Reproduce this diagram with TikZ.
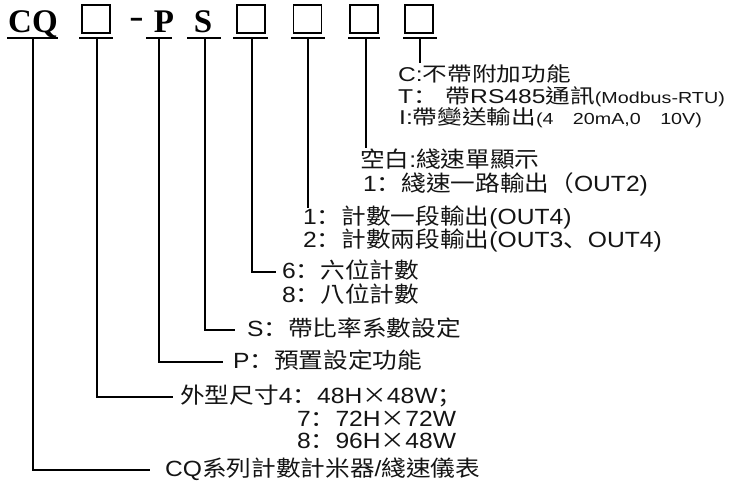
\documentclass[tikz,border=0pt]{standalone}
\usepackage{fontspec}
\setmainfont[FakeStretch=1.12]{Liberation Sans}
\newfontfamily\cjk[FakeStretch=1.12]{Noto Sans CJK TC}
\newfontfamily\pun[FakeStretch=1.12]{Noto Sans CJK SC}
\newfontfamily\hdrfont{Liberation Serif}
\newcommand\C[1]{{\cjk #1}}
\newcommand\Q[1]{{\pun #1}}
\newcommand\sm[1]{{\fontsize{16}{16}\selectfont #1}}
\begin{document}
\begin{tikzpicture}[x=1pt,y=-1pt,
  hd/.style={inner sep=0pt,font=\hdrfont\bfseries\fontsize{33}{33}\selectfont},
  bx/.style={draw,line width=1.2pt,minimum size=28pt,inner sep=0pt},
  ul/.style={line width=2pt},
  ln/.style={line width=2pt},
  lbl/.style={anchor=west,inner sep=0pt,text height=16pt,text depth=3.5pt,
    text=black!92,font=\fontsize{22}{22}\selectfont},
  lbs/.style={lbl,text height=14.5pt,text depth=3pt,font=\fontsize{20}{20}\selectfont}]
\useasboundingbox (0,0) rectangle (734,495);
% header
\node[hd,anchor=base] (cq) at (33,33) {CQ};
\node[bx] (b1) at (96,19) {};
\node[hd,anchor=base] (dash) at (136.5,28) {\scalebox{1.3}[1]{-}};
\node[hd,anchor=base] (p) at (164,33) {P};
\node[hd,anchor=base] (s) at (203,33) {S};
\node[bx] (b2) at (251,19) {};
\node[bx] (b3) at (307.5,19) {};
\node[bx] (b4) at (364,19) {};
\node[bx] (b5) at (419,19) {};
% stem tops
\coordinate (u0) at (33,38);
\coordinate (u1) at (97,38);
\coordinate (u2) at (159,38);
\coordinate (u3) at (205,38);
\coordinate (u4) at (252,38);
\coordinate (u5) at (308,38);
\coordinate (u6) at (366,38);
\coordinate (u7) at (420,38);
% underlines
\draw[ul] (7,38) -- (58,38);
\draw[ul] (79,38) -- (113,38);
\draw[ul] (146,38) -- (172,38);
\draw[ul] (187,38) -- (221,38);
\draw[ul] (233,38) -- (268,38);
\draw[ul] (291,38) -- (325,38);
\draw[ul] (348,38) -- (380,38);
\draw[ul] (403,38) -- (437,38);
% labels
\node[lbs] (t1) at (398,76) {\scalebox{1.1}[1]{C:\C{不帶附加功能}}};
\node[lbs] (t2) at (398,97.5) {\scalebox{1.1}[1]{T\Q{：}\hspace{0.35em}\C{帶}RS485\C{通訊}\sm{(Modbus-RTU)}}};
\node[lbs] (t3) at (399,119) {\scalebox{1.1}[1]{I:\C{帶變送輸出}\sm{(4\hspace{1.1em}20mA,0\hspace{1.1em}10V)}}};
\node[lbl] (t4) at (360,161) {\C{空白}:\C{綫速單顯示}};
\node[lbl] (t5) at (363,185) {1\Q{：}\C{綫速一路輸出}\Q{（}OUT2)};
\node[lbl] (t6) at (303,218) {1\Q{：}\C{計數一段輸出}(OUT4)};
\node[lbl] (t7) at (303,241) {2\Q{：}\C{計數兩段輸出}(OUT3\Q{、}OUT4)};
\node[lbl] (t8) at (282,272) {6\Q{：}\C{六位計數}};
\node[lbl] (t9) at (282,296) {8\Q{：}\C{八位計數}};
\node[lbl] (t10) at (247,330) {S\Q{：}\C{帶比率系數設定}};
\node[lbl] (t11) at (233,362) {P\Q{：}\C{預置設定功能}};
\node[lbl] (t12) at (180,397) {\C{外型尺寸}4\Q{：}48H\C{×}48W\Q{；}};
\node[lbl] (t13) at (297,420) {7\Q{：}72H\C{×}72W};
\node[lbl] (t14) at (297,442) {8\Q{：}96H\C{×}48W};
\node[lbl] (t15) at (165,470) {CQ\C{系列計數計米器}/\C{綫速儀表}};
% connectors
\coordinate (e7) at (420,63);
\coordinate (e6) at (366,148);
\coordinate (e5) at (308,208);
\draw[ln] (u7) -- (e7);
\draw[ln] (u6) -- (e6);
\draw[ln] (u5) -- (e5);
\draw[ln] (u4) |- ([xshift=-6pt]t8.west);
\draw[ln] (u3) |- ([xshift=-12pt]t10.west);
\draw[ln] (u2) |- ([xshift=-10pt]t11.west);
\draw[ln] (u1) |- ([xshift=-7pt]t12.west);
\draw[ln] (u0) |- ([xshift=-15pt]t15.west);
\end{tikzpicture}
\end{document}
